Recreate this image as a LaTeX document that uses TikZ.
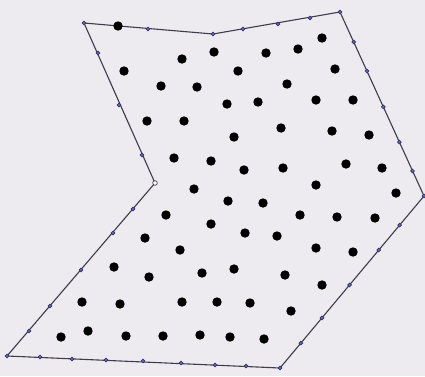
\documentclass[tikz,border=0pt]{standalone}
\usetikzlibrary{calc}
\definecolor{bgc}{RGB}{237,235,240}
\definecolor{edgec}{RGB}{60,60,75}
\definecolor{markc}{RGB}{50,50,110}
\definecolor{markf}{RGB}{110,110,170}
\tikzset{
  bigdot/.style={fill=black},
  edgemark/.style={draw=markc,fill=markf,line width=0.7pt},
  outline/.style={draw=edgec,line width=1.1pt,line join=miter}
}
\begin{document}
\begin{tikzpicture}[x=1pt,y=-1pt]
\useasboundingbox (0,0) rectangle (425,376);
\fill[bgc] (0,0) rectangle (425,376);
\coordinate (A) at (84,23);
\coordinate (B) at (213,34);
\coordinate (C) at (340,12);
\coordinate (D) at (424,196);
\coordinate (E) at (280,368);
\coordinate (F) at (7,356);
\coordinate (G) at (155,183);
\draw[outline] (A) -- (B) -- (C) -- (D) -- (E) -- (F) -- (G) -- cycle;
% edge markers
\foreach \x/\y in {84/23,148/29,213/34,243/29,278/24,310/18,340/12,
  424/196,280/368,
  246/366,215/365,181/363,143/361,106/360,72/359,40/357,7/356,
  29/331,50/306,81/270,113/233,133/209,
  142/155,119/105,98/53}
  \filldraw[edgemark] (\x,\y) circle (1.9);
\foreach \t in {0.163,0.321,0.516,0.707,0.864}
  \filldraw[edgemark] ($(C)!\t!(D)$) circle (1.9);
\foreach \t in {0.169,0.314,0.517,0.709,0.855}
  \filldraw[edgemark] ($(D)!\t!(E)$) circle (1.9);
\draw[edgec,fill=white,line width=0.7pt] (G) circle (2.3);
% interior dots
\foreach \x/\y in {118/26,214/52,182/59,124/71,161/86,197/87,147/121,184/121,
  322/38,266/53,298/49,238/71,335/69,287/84,227/104,258/102,316/100,353/100,
  281/128,332/131,369/135,382/168,346/164,316/185,283/168,244/170,234/137,
  174/158,211/161,194/189,228/201,166/215,211/224,245/233,145/238,396/193,
  337/217,375/218,263/203,300/215,277/236,114/267,149/277,82/302,120/304,
  61/337,88/331,126/336,163/336,180/250,202/273,234/269,285/275,182/302,
  217/302,250/303,291/311,200/335,230/337,264/339,316/248,353/252,322/285}
  \fill[bigdot] (\x,\y) circle (4.7);
\end{tikzpicture}
\end{document}
